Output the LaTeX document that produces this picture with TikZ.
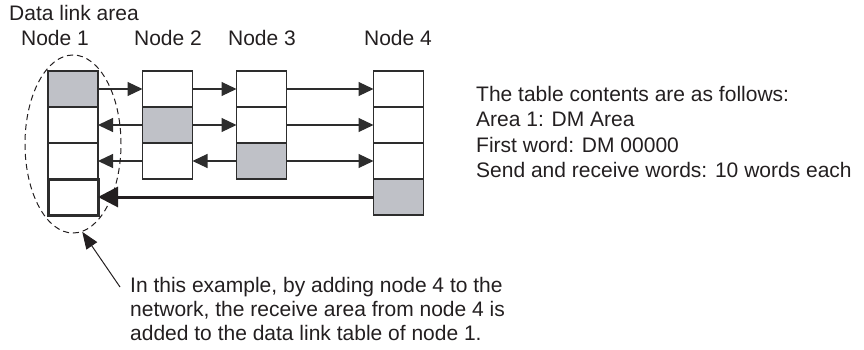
\documentclass[tikz,border=0pt]{standalone}
\usepackage{fontspec}
\setmainfont{Liberation Sans}
\usetikzlibrary{arrows.meta,shapes.geometric}
\definecolor{cellgray}{RGB}{191,193,199}
\definecolor{ink}{RGB}{35,31,32}
\definecolor{linec}{RGB}{45,45,45}
\begin{document}
\begin{tikzpicture}[x=1pt,y=-1pt,
  txt/.style={font=\fontsize{21}{25}\selectfont, text=ink, inner sep=0pt, anchor=base west},
  lbl/.style={font=\fontsize{21}{25}\selectfont, text=ink, inner sep=0pt, anchor=base},
  cell/.style={draw=linec, line width=1.2pt, minimum width=50pt, minimum height=36pt, inner sep=0pt, outer sep=0pt, fill=white},
  shaded/.style={cell, fill=cellgray},
  arr/.style={draw=linec, line width=1.2pt, -{Triangle[length=15pt,width=14pt]}},
  bigarr/.style={draw=ink, line width=3pt, -{Triangle[length=20pt,width=20pt]}},
  note/.style={draw=ink, line width=1pt, -{Triangle[length=17pt,width=13pt]}}
]
\useasboundingbox (0,0) rectangle (864,350);

% labels
\node[txt] (dla) at (9,21) {Data link area};
\node[lbl] (n1) at (55,46) {Node 1};
\node[lbl] (n2) at (168,46) {Node 2};
\node[lbl] (n3) at (262,46) {Node 3};
\node[lbl] (n4) at (398,46) {Node 4};

% node 1 column
\node[shaded] (a1) at (73,89) {};
\node[cell] (a2) at (73,125) {};
\node[cell] (a3) at (73,161) {};
\node[cell, line width=3pt] (a4) at (73,197) {};
% node 2 column
\node[cell] (b1) at (167.5,89) {};
\node[shaded] (b2) at (167.5,125) {};
\node[cell] (b3) at (167.5,161) {};
% node 3 column
\node[cell] (c1) at (261.5,89) {};
\node[cell] (c2) at (261.5,125) {};
\node[shaded] (c3) at (261.5,161) {};
% node 4 column
\node[cell] (d1) at (398.5,89) {};
\node[cell] (d2) at (398.5,125) {};
\node[cell] (d3) at (398.5,161) {};
\node[shaded] (d4) at (398.5,197) {};

% arrows
\draw[arr] (a1.east) -- (b1.west);
\draw[arr] (b1.east) -- (c1.west);
\draw[arr] (c1.east) -- (d1.west);
\draw[arr] (b2.west) -- (a2.east);
\draw[arr] (b2.east) -- (c2.west);
\draw[arr] (c2.east) -- (d2.west);
\draw[arr] (b3.west) -- (a3.east);
\draw[arr] (c3.west) -- (b3.east);
\draw[arr] (c3.east) -- (d3.west);
\draw[bigarr] (d4.west) -- (a4.east);

% dashed ellipse around node 1
\node[ellipse, draw=ink, dashed, dash pattern=on 6pt off 4pt, line width=1pt,
      minimum width=96pt, minimum height=178pt, inner sep=0pt] (ell) at (73,144) {};

% right text
\node[txt] (t1) at (476,102) {The table contents are as follows:};
\node[txt] (t2) at (476,127) {Area 1: DM Area};
\node[txt] (t3) at (476,152) {First word: DM 00000};
\node[txt] (t4) at (476,177) {Send and receive words: 10 words each};

% bottom note
\node[txt] (b1t) at (130,292) {In this example, by adding node 4 to the};
\node[txt] (b2t) at (130,316) {network, the receive area from node 4 is};
\node[txt] (b3t) at (130,340) {added to the data link table of node 1.};
\coordinate (nstart) at (120,287);
\draw[note] (nstart) -- (ell.-84);
\end{tikzpicture}
\end{document}
